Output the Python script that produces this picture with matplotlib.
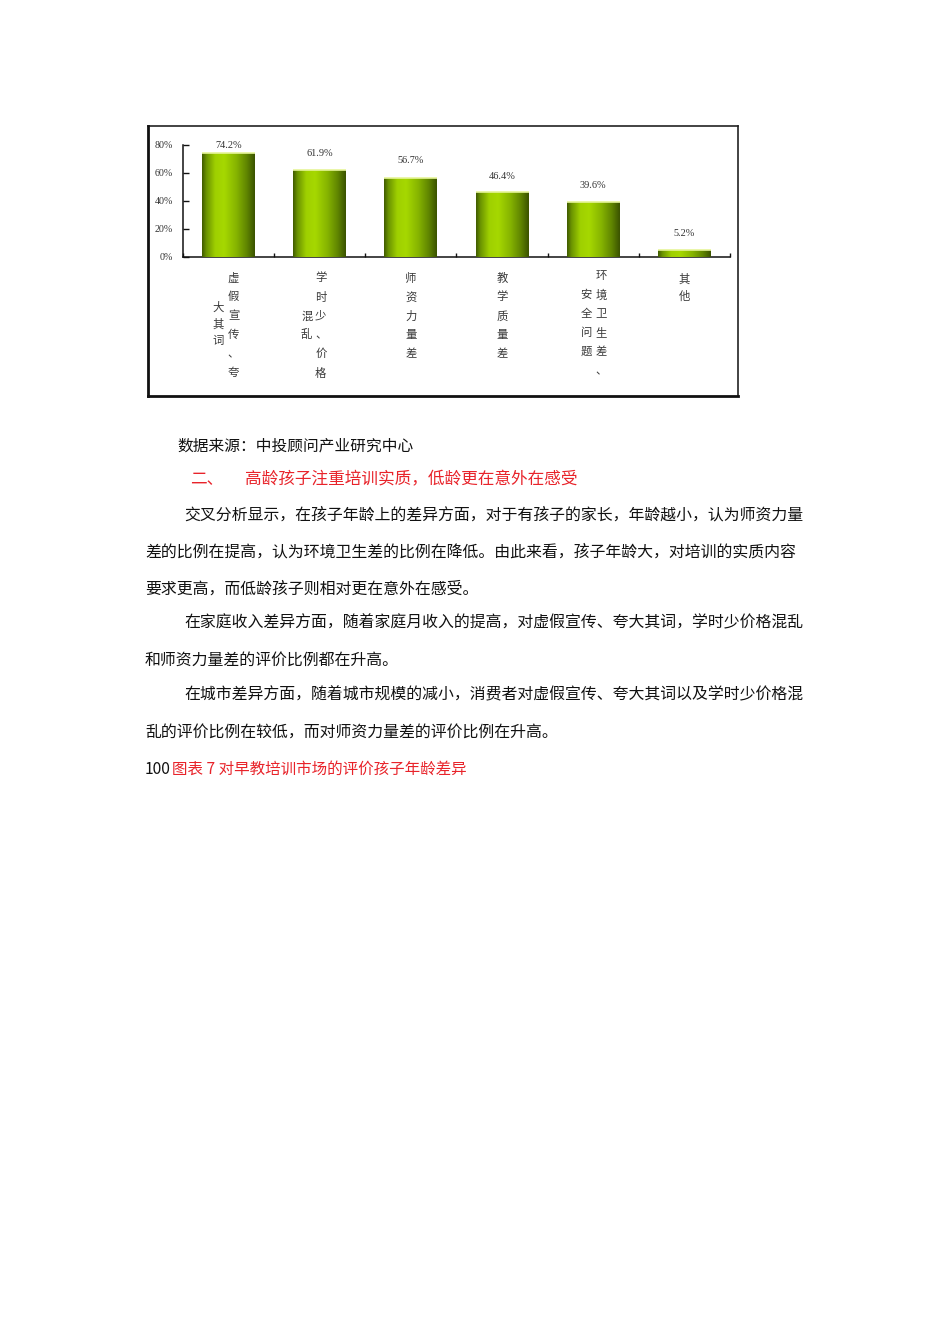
import matplotlib
matplotlib.use("Agg")
import matplotlib.pyplot as plt
import numpy as np
from matplotlib.colors import LinearSegmentedColormap
from matplotlib.lines import Line2D

plt.rcParams['font.family'] = ['Noto Sans CJK SC', 'DejaVu Sans']

# ---------------- data ----------------
categories = ["虚假宣传、夸大其词", "学时少、价格混乱", "师资力量差", "教学质量差", "环境卫生差、安全问题", "其他"]
values = [74.2, 61.9, 56.7, 46.4, 39.6, 5.2]
value_labels = ["74.2%", "61.9%", "56.7%", "46.4%", "39.6%", "5.2%"]
ytick_values = [0, 20, 40, 60, 80]
ytick_labels = ["0%", "20%", "40%", "60%", "80%"]

# label layout of the vertical category text: (column offset px, first y px, step px, chars)
label_columns = [
    [(5, 278, 19, "虚假宣传、夸"), (-10, 307, 17, "大其词")],
    [(1, 278, 19, "学时少、价格"), (-13, 317, 17, "混乱")],
    [(0, 278, 19, "师资力量差")],
    [(0, 278, 19, "教学质量差")],
    [(8, 276, 19, "环境卫生差、"), (-7, 295, 19, "安全问题")],
    [(0, 279, 17, "其他")],
]
value_label_offsets = [8, 17, 17, 16, 16, 16]

W, H = 950, 1344
fig = plt.figure(figsize=(W / 100, H / 100), dpi=100)
fig.patch.set_facecolor("white")

def fx(px):
    return px / W

def fy(py):
    return 1 - py / H

# ---------------- chart frame ----------------
fig.add_artist(Line2D([fx(148), fx(738)], [fy(126), fy(126)], color="#222222", lw=1.2))
fig.add_artist(Line2D([fx(738), fx(738)], [fy(126), fy(396)], color="#222222", lw=1.2))
fig.add_artist(Line2D([fx(148), fx(148)], [fy(126), fy(396)], color="#111111", lw=2.0))
fig.add_artist(Line2D([fx(148), fx(738)], [fy(396), fy(396)], color="#111111", lw=2.0))

# ---------------- axes ----------------
ax_left, ax_right, ax_top, ax_bottom = 183, 730, 145, 257
ax = fig.add_axes([fx(ax_left), fy(ax_bottom), (ax_right - ax_left) / W, (ax_bottom - ax_top) / H])
ax.set_xlim(-0.5, len(categories) - 0.5)
ax.set_ylim(0, 80)
ax.patch.set_alpha(0)
for s in ["top", "right"]:
    ax.spines[s].set_visible(False)
ax.spines["left"].set_color("#111111")
ax.spines["bottom"].set_color("#111111")
ax.spines["left"].set_linewidth(1.1)
ax.spines["bottom"].set_linewidth(1.1)

serif = ["Liberation Serif", "DejaVu Serif"]
ax.set_yticks(ytick_values)
ax.set_yticklabels(ytick_labels, fontsize=7.2, color="#333333", family=serif)
ax.tick_params(axis="y", direction="in", length=4, width=1, pad=7, color="#111111")
ax.set_xticks(np.arange(-0.5, len(categories) + 0.5, 1.0))
ax.set_xticklabels([])
ax.tick_params(axis="x", direction="in", length=3, width=1, color="#111111")

x = np.arange(len(categories))
bars = ax.bar(x, values, width=0.58, color="#8fbf00", edgecolor="none", zorder=2)

cmap = LinearSegmentedColormap.from_list(
    "cyl",
    [(0.0, "#3f5a00"), (0.08, "#6a9200"), (0.25, "#9fd000"), (0.42, "#a6d800"),
     (0.65, "#86b400"), (0.85, "#5f8400"), (1.0, "#3a5200")])
grad = np.linspace(0, 1, 256).reshape(1, -1)
for b in bars:
    x0, w, h = b.get_x(), b.get_width(), b.get_height()
    im = ax.imshow(grad, cmap=cmap, aspect="auto", extent=(x0, x0 + w, 0, h),
                   zorder=3, interpolation="bicubic")
    im.set_clip_path(b)
    ax.plot([x0, x0 + w], [h, h], color="#e6f59a", lw=1.2, zorder=4, solid_capstyle="butt")
ax.set_xlim(-0.5, len(categories) - 0.5)
ax.set_ylim(0, 80)

for xi, v, lab, off in zip(x, values, value_labels, value_label_offsets):
    ax.annotate(lab, xy=(xi, v), xytext=(0, off * 0.72), textcoords="offset points",
                ha="center", va="center", fontsize=7.4, color="#333333", family=serif)

# vertical category labels
for xi, cols in zip(x, label_columns):
    for dx, y0, step, chars in cols:
        for k, ch in enumerate(chars):
            ypx = y0 + k * step
            ax.annotate(ch, xy=(xi, 0), xytext=(dx * 0.72, -(ypx - ax_bottom) * 0.72),
                        textcoords="offset points", ha="center", va="center",
                        fontsize=8.2, color="#3a3a3a", annotation_clip=False)

# ---------------- body text ----------------
fs = 11.45
black = "#111111"
red = "#e8232a"

def line(xpx, ypx, s, color=black, size=fs):
    fig.text(fx(xpx), fy(ypx), s, fontsize=size, color=color, ha="left", va="center")

line(177, 446, "数据来源：中投顾问产业研究中心", size=11.3)
line(190, 480, "二、", red, size=12.0)
line(245, 480, "高龄孩子注重培训实质，低龄更在意外在感受", red, size=12.0)
line(184, 515, "交叉分析显示，在孩子年龄上的差异方面，对于有孩子的家长，年龄越小，认为师资力量")
line(145, 552, "差的比例在提高，认为环境卫生差的比例在降低。由此来看，孩子年龄大，对培训的实质内容")
line(145, 589, "要求更高，而低龄孩子则相对更在意外在感受。")
line(184, 623, "在家庭收入差异方面，随着家庭月收入的提高，对虚假宣传、夸大其词，学时少价格混乱")
line(145, 660, "和师资力量差的评价比例都在升高。")
line(184, 695, "在城市差异方面，随着城市规模的减小，消费者对虚假宣传、夸大其词以及学时少价格混")
line(145, 732, "乱的评价比例在较低，而对师资力量差的评价比例在升高。")
line(145, 769, "100", black, size=11.2)
line(172, 769, "图表 7 对早教培训市场的评价孩子年龄差异", red, size=11.2)

fig.savefig("out.png", dpi=100, facecolor="white")
